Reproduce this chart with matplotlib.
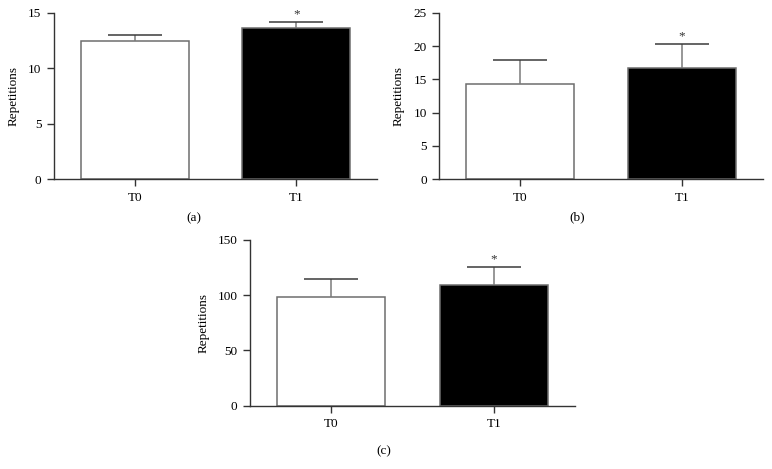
import numpy as np
import matplotlib
matplotlib.use('Agg')
import matplotlib.pyplot as plt

# ---- data ----
groups = ['T0', 'T1']
means_a = [12.43, 13.60]
sd_a = [0.57, 0.54]
means_b = [14.26, 16.66]
sd_b = [3.60, 3.65]
means_c = [98.5, 108.8]
sd_c = [16.0, 16.5]
sig = [False, True]
ylims = [(0, 15), (0, 25), (0, 150)]
yticks = [[0, 5, 10, 15], [0, 5, 10, 15, 20, 25], [0, 50, 100, 150]]
panel_tags = ['(a)', '(b)', '(c)']

plt.rcParams['font.family'] = ['Liberation Serif', 'DejaVu Serif']
plt.rcParams['font.size'] = 9.5

W, H = 772, 469
fig = plt.figure(figsize=(W / 100, H / 100), dpi=100)

# axes boxes in pixels: left, top, right, bottom
boxes = [(54, 12.7, 377, 179.3), (439.3, 12.7, 763, 179.3), (250, 239.7, 575, 405.7)]
tag_pos = [(194, 218), (577, 217), (384, 451.7)]


def draw_panel(box, means, sds, ylim, ticks, tag, tpos):
    l, t, r, b = box
    ax = fig.add_axes([l / W, 1 - b / H, (r - l) / W, (b - t) / H])
    x = np.arange(len(groups))
    ax.bar(x, means, width=0.667, color=['white', 'black'],
           edgecolor='#6e6e6e', linewidth=1.1, zorder=2)
    tops = np.array(means) + np.array(sds)
    ax.vlines(x, means, tops, color='#7a7a7a', linewidth=1.1, zorder=3)
    ax.hlines(tops, x - 0.167, x + 0.167, color='#3a3a3a', linewidth=1.1, zorder=3)
    for xi, top, s in zip(x, tops, sig):
        if s:
            ax.annotate('*', (xi, top), xytext=(0, 1.5), textcoords='offset points',
                        ha='center', va='bottom', fontsize=9.5, color='#333333')
    ax.set_xlim(-0.5, 1.5)
    ax.set_ylim(*ylim)
    ax.set_yticks(ticks)
    ax.set_xticks(x)
    ax.set_xticklabels(groups)
    ax.set_ylabel('Repetitions', labelpad=6)
    for sp in ['top', 'right']:
        ax.spines[sp].set_visible(False)
    for sp in ['left', 'bottom']:
        ax.spines[sp].set_color('#333333')
        ax.spines[sp].set_linewidth(1.0)
    ax.tick_params(direction='out', length=5, width=1.0, color='#333333', pad=4)
    fig.text(tpos[0] / W, 1 - tpos[1] / H, tag, ha='center', va='center', fontsize=9.5)
    return ax


draw_panel(boxes[0], means_a, sd_a, ylims[0], yticks[0], panel_tags[0], tag_pos[0])
draw_panel(boxes[1], means_b, sd_b, ylims[1], yticks[1], panel_tags[1], tag_pos[1])
draw_panel(boxes[2], means_c, sd_c, ylims[2], yticks[2], panel_tags[2], tag_pos[2])

fig.savefig('out.png', dpi=100)
